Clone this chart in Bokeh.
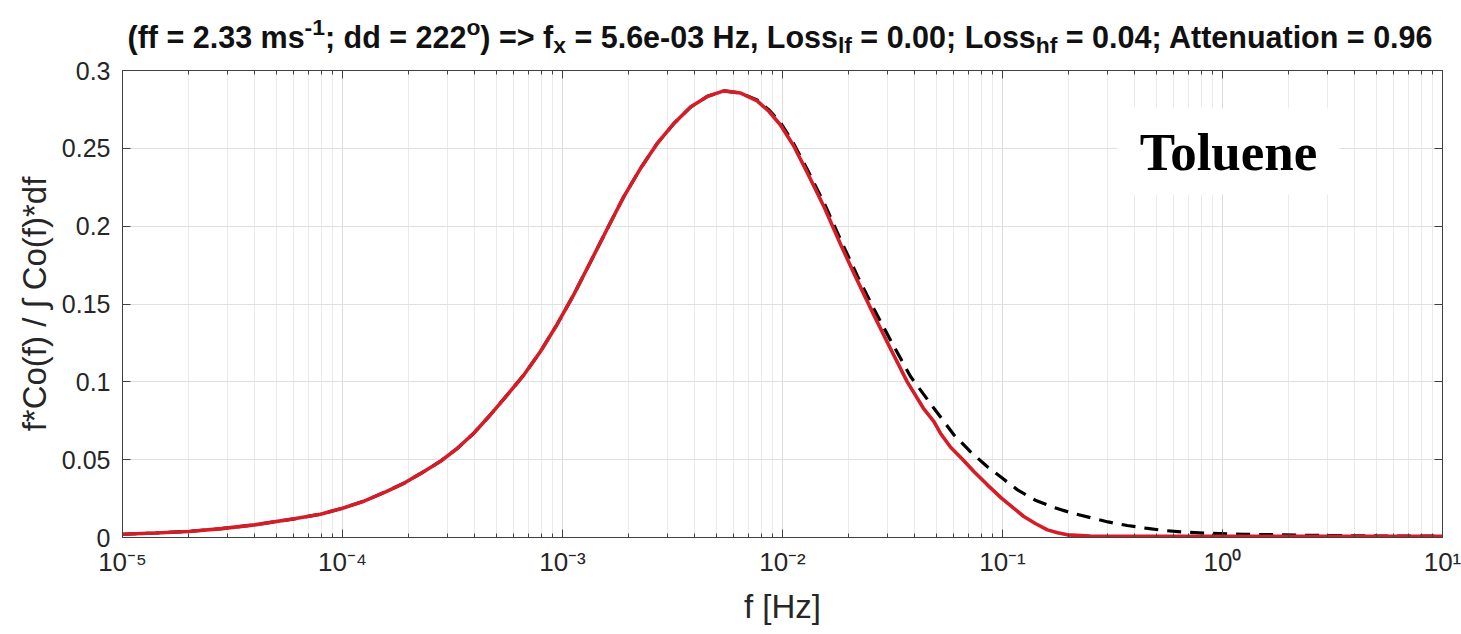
from bokeh.plotting import figure
from bokeh.layouts import column
from bokeh.models import (LogAxis, LinearAxis, FixedTicker, CustomJSTickFormatter,
                          Label, Range1d)
from bokeh.embed import file_html
from bokeh.resources import INLINE

# ---------------- data ----------------
freq_solid = [1.00e-5, 1.41e-5, 2.00e-5, 2.82e-5, 3.98e-5, 6.03e-5, 7.94e-5, 1.00e-4,
              1.26e-4, 1.58e-4, 1.91e-4, 2.26e-4, 2.79e-4, 3.31e-4, 3.95e-4, 4.68e-4,
              5.61e-4, 6.68e-4, 7.94e-4, 9.46e-4, 1.125e-3, 1.34e-3, 1.60e-3, 1.90e-3,
              2.26e-3, 2.69e-3, 3.21e-3, 3.82e-3, 4.57e-3, 5.41e-3, 6.46e-3, 7.67e-3,
              8.71e-3, 9.79e-3, 1.12e-2, 1.29e-2, 1.55e-2, 1.84e-2, 2.19e-2, 2.60e-2,
              3.09e-2, 3.69e-2, 4.37e-2, 4.88e-2, 5.22e-2, 5.81e-2, 6.61e-2, 7.41e-2,
              8.51e-2, 9.89e-2, 0.112, 0.125, 0.141, 0.160, 0.178, 0.197, 0.251, 0.398,
              1.0, 3.16, 10.0]
cospec_solid = [0.0021, 0.0029, 0.0039, 0.0057, 0.0081, 0.0120, 0.0150, 0.0188,
                0.0235, 0.0295, 0.0350, 0.0410, 0.0490, 0.0570, 0.0670, 0.0785,
                0.0916, 0.1045, 0.1195, 0.1370, 0.1560, 0.1770, 0.1985, 0.2190,
                0.2370, 0.2530, 0.2660, 0.2765, 0.2835, 0.2869, 0.2855, 0.2805,
                0.2735, 0.2650, 0.2520, 0.2350, 0.2120, 0.1880, 0.1650, 0.1430,
                0.1216, 0.1000, 0.0830, 0.0745, 0.0670, 0.0580, 0.0500, 0.0424,
                0.0340, 0.0253, 0.0190, 0.0135, 0.0090, 0.0049, 0.0030, 0.0017,
                0.0010, 0.0008, 0.0008, 0.0008, 0.0008]

freq_dashed = [1.00e-5, 1.41e-5, 2.00e-5, 2.82e-5, 3.98e-5, 6.03e-5, 7.94e-5, 1.00e-4,
               1.26e-4, 1.58e-4, 1.91e-4, 2.26e-4, 2.79e-4, 3.31e-4, 3.95e-4, 4.68e-4,
               5.61e-4, 6.68e-4, 7.94e-4, 9.46e-4, 1.125e-3, 1.34e-3, 1.60e-3, 1.90e-3,
               2.26e-3, 2.69e-3, 3.21e-3, 3.82e-3, 4.57e-3, 5.41e-3, 6.46e-3, 7.67e-3,
               8.71e-3, 9.79e-3, 1.12e-2, 1.29e-2, 1.55e-2, 1.84e-2, 2.19e-2, 2.60e-2,
               3.09e-2, 3.82e-2, 4.88e-2, 6.01e-2, 7.16e-2, 8.51e-2, 0.100, 0.117,
               0.141, 0.171, 0.209, 0.251, 0.302, 0.369, 0.447, 0.541, 0.661, 0.822,
               1.25, 1.84, 2.79, 5.01, 10.0]
cospec_dashed = [0.0021, 0.0029, 0.0039, 0.0057, 0.0081, 0.0120, 0.0150, 0.0188,
                 0.0235, 0.0295, 0.0350, 0.0410, 0.0490, 0.0570, 0.0670, 0.0785,
                 0.0916, 0.1045, 0.1195, 0.1370, 0.1560, 0.1770, 0.1985, 0.2190,
                 0.2370, 0.2530, 0.2660, 0.2765, 0.2835, 0.2869, 0.2855, 0.2810,
                 0.2745, 0.2665, 0.2535, 0.2370, 0.2145, 0.1910, 0.1680, 0.1470,
                 0.1270, 0.1034, 0.0830, 0.0660, 0.0550, 0.0456, 0.0380, 0.0306,
                 0.0240, 0.0193, 0.0155, 0.0128, 0.0100, 0.0077, 0.0060, 0.0045,
                 0.0035, 0.0028, 0.0021, 0.0017, 0.0013, 0.0010, 0.0008]

x_ticks = [1e-5, 1e-4, 1e-3, 1e-2, 1e-1, 1e0, 1e1]
x_tick_labels = ["10\u207b\u2075", "10\u207b\u2074", "10\u207b\u00b3", "10\u207b\u00b2",
                 "10\u207b\u00b9", "10\u2070", "10\u00b9"]
x_minor_ticks = [m * d for d in x_ticks[:-1] for m in range(2, 10)]
y_ticks = [0, 0.05, 0.1, 0.15, 0.2, 0.25, 0.3]
y_tick_labels = ["0", "0.05", "0.1", "0.15", "0.2", "0.25", "0.3"]

title_parts = [("(ff = 2.33 ms", "n"), ("-1", "sup"), ("; dd = 222", "n"), ("o", "sup"),
               (") => f", "n"), ("x", "sub"), (" = 5.6e-03 Hz, Loss", "n"), ("lf", "sub"),
               (" = 0.00; Loss", "n"), ("hf", "sub"), (" = 0.04; Attenuation = 0.96", "n")]
x_label = "f [Hz]"
y_label = "f*Co(f) / \u222b Co(f)*df"
tag_text = "Toluene"

# ---------------- geometry ----------------
W, H = 1461, 634
TITLE_H = 58
FRAME_L, FRAME_R, FRAME_T, FRAME_B = 122, 1442, 70, 537
TXT = "#262626"
FONT = "Liberation Sans"
AXC = "#404040"
BASE_SHIFT = 0.35   # Label alphabetic baseline lands ~0.35 em lower than its anchor

# ---------------- title strip ----------------
tf = figure(width=W, height=TITLE_H, x_range=Range1d(FRAME_L, FRAME_R),
            y_range=Range1d(0, TITLE_H),
            output_backend="svg", toolbar_location=None,
            x_axis_location=None, y_axis_location=None,
            min_border_left=FRAME_L, min_border_right=W - FRAME_R,
            min_border_top=0, min_border_bottom=0)
tf.outline_line_color = None
tf.xgrid.visible = False
tf.ygrid.visible = False
tf.background_fill_color = "white"
tf.border_fill_color = "white"

AB = {' ': 278, '(': 333, ')': 333, '=': 584, '>': 584, '.': 278, ',': 278, ';': 333,
      '-': 333, 'f': 333, 'm': 889, 's': 556, 'd': 611, 'x': 556, 'e': 556, 'H': 722,
      'z': 500, 'L': 611, 'o': 611, 'l': 278, 'h': 611, 'A': 722, 't': 333, 'n': 611,
      'u': 611, 'a': 556, 'i': 278}
for c in "0123456789":
    AB[c] = 556

def em(s):
    return sum(AB[c] for c in s) / 1000.0

SMALL = 0.75
title_left, title_right = 127, 1433
main_em = sum(em(s) for s, k in title_parts if k == "n")
small_em = sum(em(s) for s, k in title_parts if k != "n")
fs = (title_right - title_left) / (main_em + SMALL * small_em)
base = {"n": 47, "sub": 53, "sup": 35}
xpos = title_left
for s, k in title_parts:
    size = fs if k == "n" else fs * SMALL
    lead = len(s) - len(s.lstrip(" "))
    txt = s.lstrip(" ")
    x0 = xpos + lead * AB[' '] / 1000.0 * size
    tf.add_layout(Label(x=x0, y=TITLE_H - (base[k] - BASE_SHIFT * size),
                        x_units="data", y_units="data",
                        text=txt, text_font=FONT, text_font_style="bold",
                        text_font_size=f"{size:.1f}px", text_color="#111111",
                        text_align="left", text_baseline="alphabetic"))
    xpos += em(s) * size

# ---------------- main figure ----------------
p = figure(width=W, height=H - TITLE_H, x_axis_type="log",
           x_range=Range1d(1e-5, 10), y_range=Range1d(0, 0.3),
           output_backend="svg", toolbar_location=None,
           min_border_left=FRAME_L, min_border_right=W - FRAME_R,
           min_border_top=FRAME_T - TITLE_H, min_border_bottom=H - FRAME_B)
p.background_fill_color = "white"
p.border_fill_color = "white"
p.outline_line_color = AXC
p.outline_line_width = 1

for f in (tf, p):
    if "frame_align" in f.properties():
        f.frame_align = False

xticker = FixedTicker(ticks=x_ticks, minor_ticks=x_minor_ticks)
yticker = FixedTicker(ticks=y_ticks, minor_ticks=[])

xfmt = CustomJSTickFormatter(args=dict(tv=x_ticks, tl=x_tick_labels), code="""
const i = tv.findIndex(t => Math.abs(Math.log10(t) - Math.log10(tick)) < 1e-6);
return i >= 0 ? tl[i] : "";
""")
yfmt = CustomJSTickFormatter(args=dict(tv=y_ticks, tl=y_tick_labels), code="""
const i = tv.findIndex(t => Math.abs(t - tick) < 1e-9);
return i >= 0 ? tl[i] : "";
""")
empty = CustomJSTickFormatter(code="return '';")

xa = p.xaxis[0]
xa.ticker = xticker
xa.formatter = xfmt
ya = p.yaxis[0]
ya.ticker = yticker
ya.formatter = yfmt

for ax in (xa, ya):
    ax.major_tick_in = 8
    ax.major_tick_out = 0
    ax.minor_tick_in = 4
    ax.minor_tick_out = 0
    ax.axis_line_color = AXC
    ax.major_tick_line_color = AXC
    ax.minor_tick_line_color = AXC
    ax.major_label_text_font = FONT
    ax.major_label_text_color = TXT
    ax.axis_label_text_font = FONT
    ax.axis_label_text_font_style = "normal"
    ax.axis_label_text_font_size = "33px"
    ax.axis_label_text_color = TXT

xa.major_label_text_font_size = "26px"
xa.major_label_standoff = 9
xa.axis_label = x_label
xa.axis_label_standoff = 8
ya.major_label_text_font_size = "25px"
ya.major_label_standoff = 12
ya.axis_label = y_label
ya.axis_label_standoff = 6

top = LogAxis(ticker=xticker, formatter=empty, major_tick_in=8, major_tick_out=0,
              minor_tick_in=4, minor_tick_out=0, axis_line_color=AXC,
              major_tick_line_color=AXC, minor_tick_line_color=AXC,
              major_label_standoff=0, major_label_text_font_size="0px")
p.add_layout(top, "above")
right = LinearAxis(ticker=yticker, formatter=empty, major_tick_in=8, major_tick_out=0,
                   minor_tick_in=0, minor_tick_out=0, axis_line_color=AXC,
                   major_tick_line_color=AXC, major_label_standoff=0,
                   major_label_text_font_size="0px")
p.add_layout(right, "right")

p.xgrid.ticker = xticker
p.xgrid.grid_line_color = "#dcdcdc"
p.xgrid.minor_grid_line_color = "#eaeaea"
p.ygrid.ticker = yticker
p.ygrid.grid_line_color = "#e0e0e0"

# ---------------- curves ----------------
p.line(freq_dashed, cospec_dashed, line_color="black", line_width=3.2, line_dash="14 9")
p.line(freq_solid, cospec_solid, line_color="#d41d27", line_width=3.6)

# ---------------- "Toluene" tag ----------------
p.add_layout(Label(x=1228 - FRAME_L, y=FRAME_B - 170 + 19, x_units="screen", y_units="screen",
                   text=tag_text, text_font="Liberation Serif", text_font_style="bold",
                   text_font_size="53px", text_color="black", text_align="center",
                   text_baseline="alphabetic", background_fill_color="white",
                   padding=(22, 14)))

open("out.html", "w").write(file_html(column(tf, p, spacing=0), INLINE))
